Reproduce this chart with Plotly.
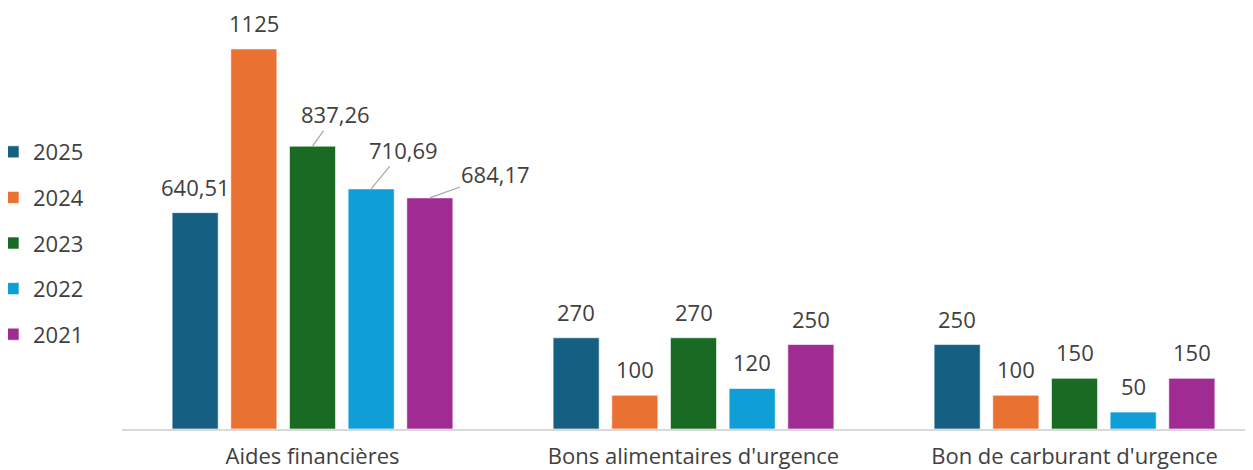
import plotly.graph_objects as go

CATEGORIES = ["Aides financières", "Bons alimentaires d'urgence", "Bon de carburant d'urgence"]
YEARS = ["2025", "2024", "2023", "2022", "2021"]
V2025 = [640.51, 270, 250]
V2024 = [1125, 100, 100]
V2023 = [837.26, 270, 150]
V2022 = [710.69, 120, 50]
V2021 = [684.17, 250, 150]
SERIES = [V2025, V2024, V2023, V2022, V2021]
COLORS = ["#156082", "#E97132", "#196B24", "#0F9ED5", "#A02B93"]

# labels pulled out with a leader line (year index, category index) -> offset of label in px
CALLOUTS = {(2, 0): (23, -32), (3, 0): (32, -39), (4, 0): (66, -24)}

# the page body has an 8px margin, so the figure is drawn 8px smaller
W, H = 1245, 462
ML, MB = 114, 41
BARGAP = 0.23
GROUPGAP = 0.215
XRANGE = [-0.5, -0.5 + (W - ML) / 381]

TXT = "#404040"
FONT = "Open Sans"
FS = 22


def fmt(v):
    return f"{v:g}".replace(".", ",")


fig = go.Figure()
for name, vals, col in zip(YEARS, SERIES, COLORS):
    fig.add_trace(go.Bar(
        x=CATEGORIES, y=vals, name=name, legendgroup=name,
        marker=dict(color=col, line=dict(color="rgba(255,255,255,0.6)", width=1)),
        hoverinfo="skip",
    ))

# pixel offset of each bar inside its group
cat_px = (W - ML) / (XRANGE[1] - XRANGE[0])
slot = cat_px * (1 - BARGAP) / len(YEARS)

for i, vals in enumerate(SERIES):
    dx = (i - (len(YEARS) - 1) / 2) * slot
    for j, v in enumerate(vals):
        if (i, j) in CALLOUTS:
            ax, ay = CALLOUTS[(i, j)]
            fig.add_annotation(
                x=CATEGORIES[j], y=v, xshift=dx, text=fmt(v),
                showarrow=True, arrowhead=0, arrowwidth=1.2, arrowcolor="#A6A6A6",
                ax=ax, ay=ay, font=dict(size=FS, color=TXT, family=FONT),
            )
        else:
            fig.add_annotation(
                x=CATEGORIES[j], y=v, xshift=dx, yshift=26, yanchor="middle",
                text=fmt(v), showarrow=False,
                font=dict(size=FS, color=TXT, family=FONT),
            )

fig.update_layout(
    width=W, height=H,
    barmode="group", bargap=BARGAP, bargroupgap=GROUPGAP,
    margin=dict(l=ML, r=0, t=0, b=MB, autoexpand=False),
    paper_bgcolor="white", plot_bgcolor="white",
    font=dict(family=FONT, color=TXT, size=FS),
    legend=dict(
        xref="paper", x=-(ML + 15) / (W - ML), xanchor="left",
        yref="container", y=1 - 235 / H, yanchor="middle", tracegroupgap=14,
        font=dict(size=FS, color=TXT), itemwidth=30,
    ),
)
fig.update_xaxes(
    range=XRANGE, showline=True, linecolor="#D9D9D9", linewidth=1.5,
    ticks="", showgrid=False, ticklabelstandoff=7, automargin=False,
    tickfont=dict(size=FS, color=TXT),
)
fig.update_yaxes(range=[0, (H - MB) / 0.3378], visible=False, showgrid=False)

fig.write_html("out.html")
